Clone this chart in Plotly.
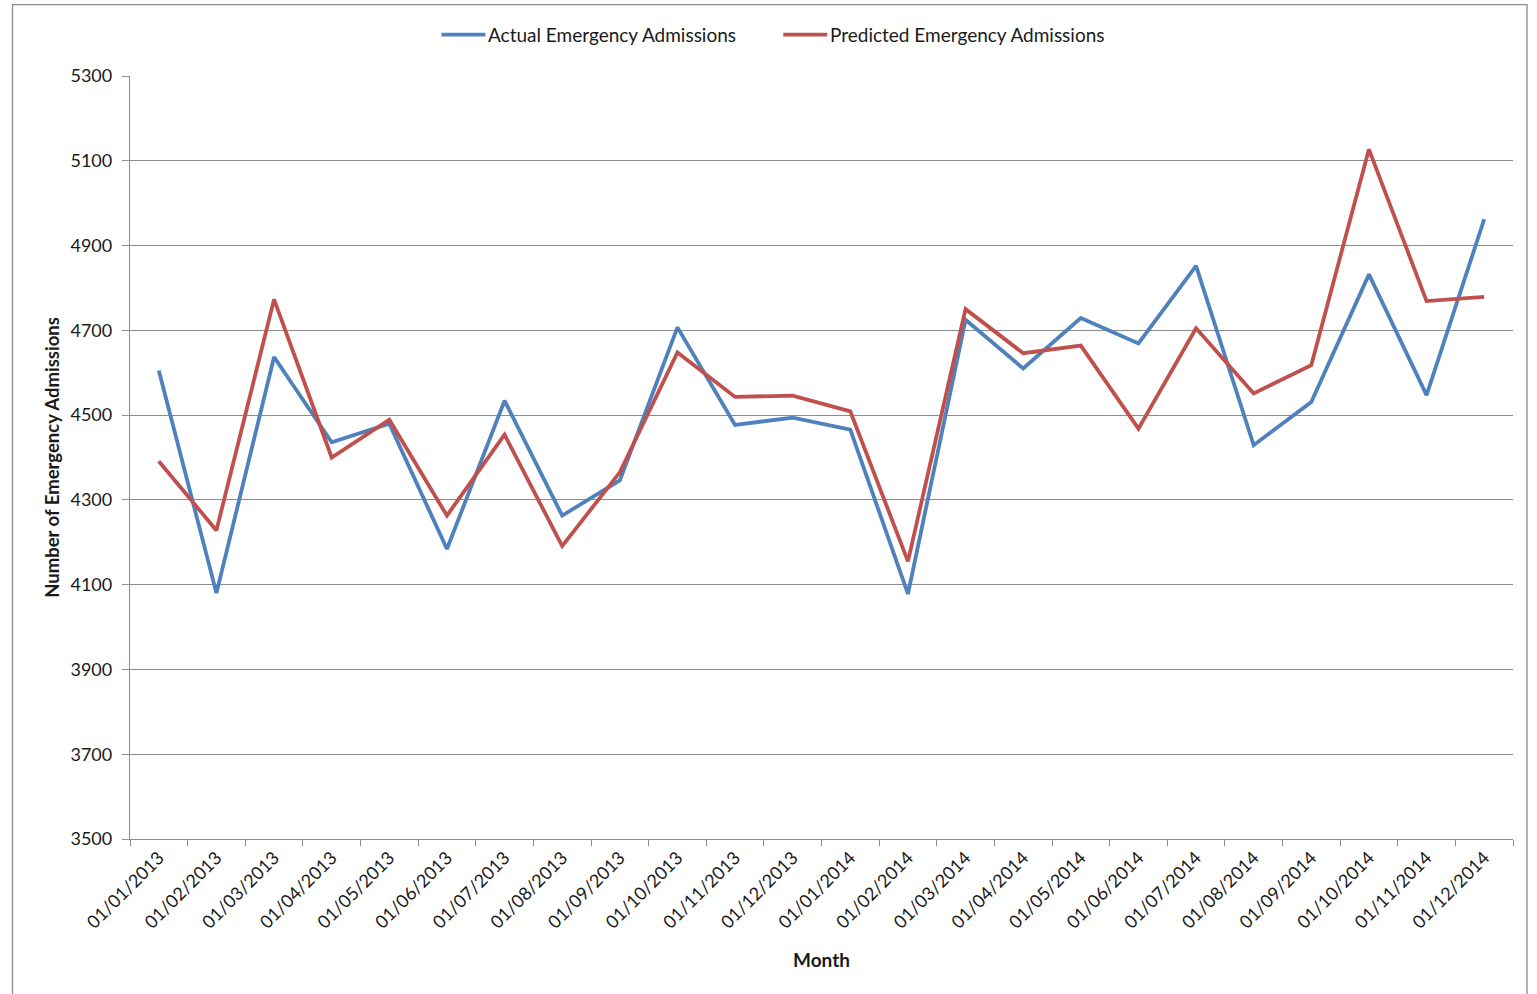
import plotly.graph_objects as go

# Monthly emergency admissions, Jan 2013 - Dec 2014
months = [
    "01/01/2013", "01/02/2013", "01/03/2013", "01/04/2013", "01/05/2013", "01/06/2013",
    "01/07/2013", "01/08/2013", "01/09/2013", "01/10/2013", "01/11/2013", "01/12/2013",
    "01/01/2014", "01/02/2014", "01/03/2014", "01/04/2014", "01/05/2014", "01/06/2014",
    "01/07/2014", "01/08/2014", "01/09/2014", "01/10/2014", "01/11/2014", "01/12/2014",
]
actual = [4605, 4080, 4637, 4436, 4480, 4184, 4534, 4263, 4346, 4707, 4477, 4494,
          4466, 4078, 4725, 4610, 4729, 4669, 4852, 4429, 4531, 4832, 4547, 4962]
predicted = [4391, 4228, 4773, 4400, 4489, 4263, 4454, 4191, 4365, 4648, 4543, 4546,
             4509, 4155, 4750, 4646, 4664, 4468, 4705, 4551, 4618, 5127, 4769, 4779]
y_ticks = [3500, 3700, 3900, 4100, 4300, 4500, 4700, 4900, 5100, 5300]

BLUE = "#4F81BD"
RED = "#C0504D"
GRID = "#8C8C8C"
TEXT = "#1a1a1a"
FONT = "Lato, 'Open Sans', sans-serif"

W, H = 1537, 994
L, R, T, B = 129.5, 1513, 76.3, 839


def px(x):
    return (x - L) / (R - L)


def py(y):
    return (B - y) / (B - T)


fig = go.Figure()
fig.add_trace(go.Scatter(x=months, y=actual, mode="lines", name="Actual Emergency Admissions",
                         line=dict(color=BLUE, width=3.8)))
fig.add_trace(go.Scatter(x=months, y=predicted, mode="lines", name="Predicted Emergency Admissions",
                         line=dict(color=RED, width=3.8)))

shapes = [
    # outer chart frame
    dict(type="rect", xref="paper", yref="paper", x0=px(12), x1=px(1527), y0=py(1005), y1=py(5),
         line=dict(color=GRID, width=1.3), layer="below"),
    # legend swatches
    dict(type="line", xref="paper", yref="paper", x0=px(441), x1=px(485), y0=py(35), y1=py(35),
         line=dict(color=BLUE, width=3.8)),
    dict(type="line", xref="paper", yref="paper", x0=px(783), x1=px(827), y0=py(35), y1=py(35),
         line=dict(color=RED, width=3.8)),
]
annotations = [
    dict(text="Actual Emergency Admissions", xref="paper", yref="paper", x=px(486), y=py(35),
         xanchor="left", yanchor="middle", showarrow=False, font=dict(family=FONT, size=19, color=TEXT)),
    dict(text="Predicted Emergency Admissions", xref="paper", yref="paper", x=px(828), y=py(35),
         xanchor="left", yanchor="middle", showarrow=False, font=dict(family=FONT, size=19, color=TEXT)),
]

fig.update_layout(
    width=W, height=H,
    margin=dict(l=L, r=W - R, t=T, b=H - B, pad=0),
    paper_bgcolor="white", plot_bgcolor="white",
    showlegend=False,
    font=dict(family=FONT, size=18, color=TEXT),
    shapes=shapes,
    annotations=annotations,
    xaxis=dict(
        type="category", range=[-0.5, 23.5],
        tickson="boundaries", ticks="outside", ticklen=6, tickcolor=GRID, tickwidth=1.3,
        tickangle=-45, tickfont=dict(family=FONT, size=18, color=TEXT),
        showline=True, linecolor=GRID, linewidth=1.3,
        showgrid=False, zeroline=False,
        title=dict(text="<b>Month</b>", font=dict(family=FONT, size=19, color=TEXT), standoff=22),
    ),
    yaxis=dict(
        range=[3500, 5300], tickvals=y_ticks,
        ticks="outside", ticklen=7, tickcolor=GRID, tickwidth=1.3,
        tickfont=dict(family=FONT, size=18, color=TEXT), ticklabelstandoff=6,
        showline=True, linecolor=GRID, linewidth=1.3,
        showgrid=True, gridcolor=GRID, gridwidth=1.3, zeroline=False,
        title=dict(text="<b>Number of Emergency Admissions</b>",
                   font=dict(family=FONT, size=18.5, color=TEXT), standoff=6),
    ),
)

fig.write_html("out.html")
